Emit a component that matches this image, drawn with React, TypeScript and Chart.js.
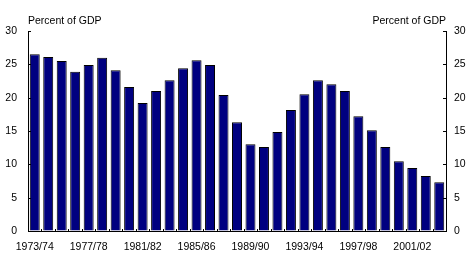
import React, { useEffect, useRef } from "react";
import { Chart, registerables } from "chart.js";

Chart.register(...registerables);

const categories = [
  "1973/74", "1974/75", "1975/76", "1976/77", "1977/78", "1978/79", "1979/80", "1980/81",
  "1981/82", "1982/83", "1983/84", "1984/85", "1985/86", "1986/87", "1987/88", "1988/89",
  "1989/90", "1990/91", "1991/92", "1992/93", "1993/94", "1994/95", "1995/96", "1996/97",
  "1997/98", "1998/99", "1999/00", "2000/01", "2001/02", "2002/03", "2003/04",
];

const values = [
  26.5, 26.1, 25.5, 23.9, 24.9, 26.0, 24.1, 21.6,
  19.2, 21.0, 22.6, 24.4, 25.6, 24.9, 20.4, 16.3,
  13.0, 12.6, 14.85, 18.15, 20.5, 22.6, 22.0, 21.0,
  17.2, 15.1, 12.6, 10.45, 9.45, 8.25, 7.3,
];

const yTicks = [0, 5, 10, 15, 20, 25, 30];
const axisTitle = "Percent of GDP";

const FONT_FAMILY = "'Liberation Sans', Arial, sans-serif";
const FONT_SIZE = 10.5;

export default function App() {
  const canvasRef = useRef<HTMLCanvasElement | null>(null);

  useEffect(() => {
    const canvas = canvasRef.current;
    if (!canvas) return;

    const innerTicks = {
      id: "innerTicks",
      afterDraw(chart: any) {
        const ctx = chart.ctx;
        const area = chart.chartArea;
        const y = chart.scales.y;
        const x = chart.scales.x;
        ctx.save();
        ctx.strokeStyle = "#000";
        ctx.lineWidth = 1;
        ctx.beginPath();
        yTicks.forEach((v) => {
          const py = Math.round(y.getPixelForValue(v)) + 0.5;
          ctx.moveTo(area.left, py);
          ctx.lineTo(area.left + 3, py);
          ctx.moveTo(area.right, py);
          ctx.lineTo(area.right - 3, py);
        });
        for (let i = 0; i < categories.length - 1; i++) {
          const px = Math.round((x.getPixelForValue(i) + x.getPixelForValue(i + 1)) / 2) + 0.5;
          ctx.moveTo(px, area.bottom);
          ctx.lineTo(px, area.bottom - 2);
        }
        ctx.stroke();
        ctx.fillStyle = "#000";
        ctx.font = `${FONT_SIZE}px ${FONT_FAMILY}`;
        ctx.textBaseline = "alphabetic";
        ctx.textAlign = "left";
        ctx.fillText(axisTitle, area.left, 24);
        ctx.textAlign = "right";
        ctx.fillText(axisTitle, area.right, 24);
        ctx.restore();
      },
    };

    const tickFont = { family: FONT_FAMILY, size: FONT_SIZE };

    const chart = new Chart(canvas, {
      type: "bar",
      data: {
        labels: categories,
        datasets: [
          {
            data: values,
            backgroundColor: "#000080",
            borderColor: "#000000",
            borderWidth: 1,
            categoryPercentage: 1,
            barPercentage: 0.74,
            yAxisID: "y",
          },
        ],
      },
      options: {
        responsive: false,
        animation: false,
        layout: { padding: { top: 31, left: 0, right: 0, bottom: 0 } },
        plugins: {
          legend: { display: false },
          tooltip: { enabled: false },
        },
        scales: {
          x: {
            grid: { display: true, drawOnChartArea: false, drawTicks: false },
            border: { display: true, color: "#000", width: 1 },
            ticks: {
              autoSkip: false,
              maxRotation: 0,
              minRotation: 0,
              padding: 10,
              color: "#000",
              font: tickFont,
              callback: (_v: any, i: number) => (i % 4 === 0 ? categories[i] : ""),
            },
            afterFit: (s: any) => {
              s.height = 33;
            },
          },
          y: {
            position: "left",
            min: 0,
            max: 30,
            grid: { display: true, drawOnChartArea: false, drawTicks: false },
            border: { display: true, color: "#000", width: 1 },
            ticks: { stepSize: 5, padding: 11, color: "#000", font: tickFont },
            afterFit: (s: any) => {
              s.width = 28;
            },
          },
          y2: {
            position: "right",
            min: 0,
            max: 30,
            grid: { display: true, drawOnChartArea: false, drawTicks: false },
            border: { display: true, color: "#000", width: 1 },
            ticks: { stepSize: 5, padding: 8, color: "#000", font: tickFont },
            afterFit: (s: any) => {
              s.width = 28;
            },
          },
        },
      },
      plugins: [innerTicks],
    });

    return () => chart.destroy();
  }, []);

  return (
    <div style={{ position: "fixed", left: 0, top: 0, width: 474, height: 264, background: "#fff" }}>
      <canvas ref={canvasRef} width={474} height={264} />
    </div>
  );
}
